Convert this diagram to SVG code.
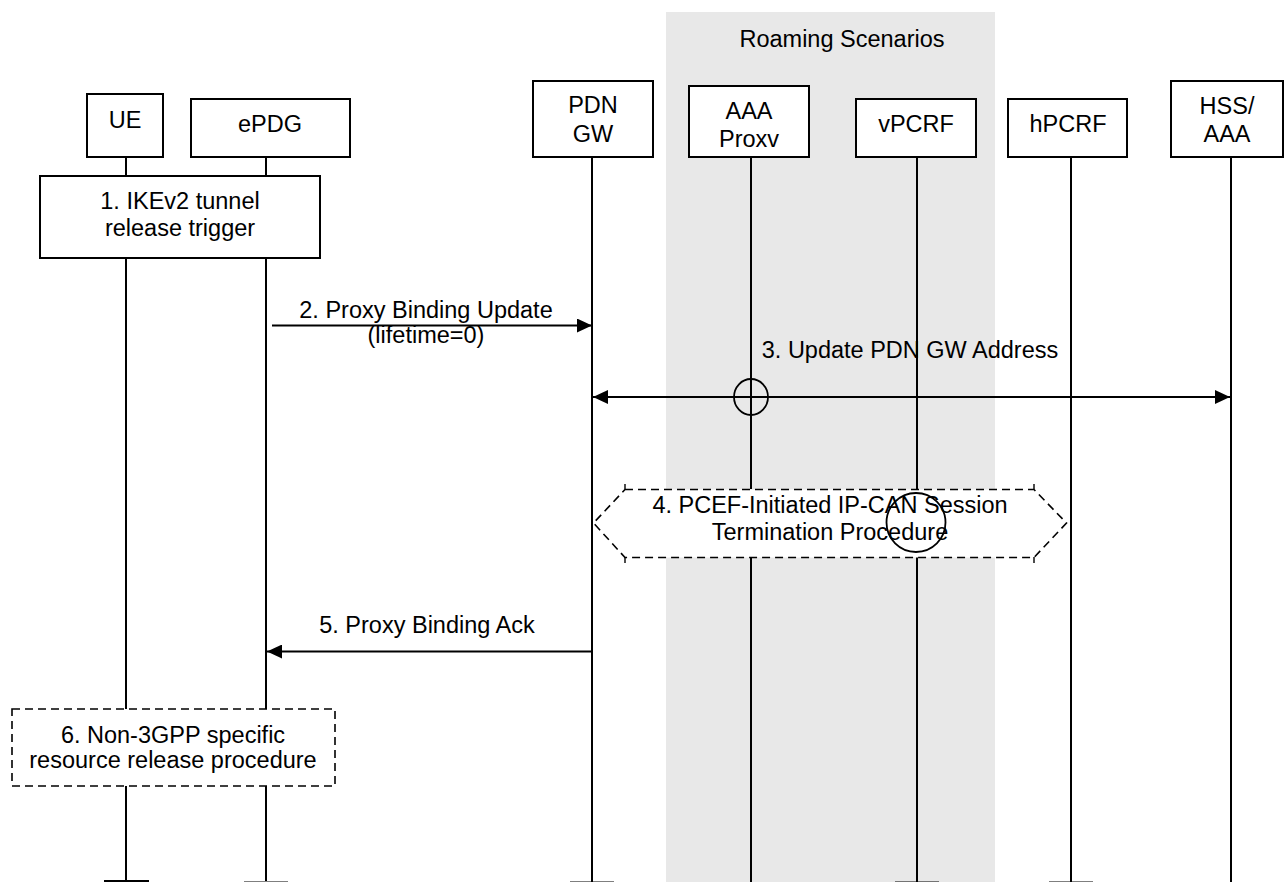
<svg xmlns="http://www.w3.org/2000/svg" width="1284" height="882" viewBox="0 0 1284 882">
<defs>
<style>
text{font-family:"Liberation Sans",Arial,sans-serif;font-size:23.5px;fill:#000;text-anchor:middle}
.box{fill:#fff;stroke:#000;stroke-width:2}
.dbox{fill:#fff;stroke:#000;stroke-width:1.6;stroke-dasharray:8 5}
.life{stroke:#000;stroke-width:2;fill:none}
.msg{stroke:#000;stroke-width:2.2;fill:none}
.ring{fill:none;stroke:#000;stroke-width:1.8}
</style>
<marker id="ah" viewBox="0 0 15 14" refX="15" refY="7" markerWidth="15" markerHeight="14" markerUnits="userSpaceOnUse" orient="auto-start-reverse">
<path d="M0,0 L15,7 L0,14 Z" fill="#000"/>
</marker>
</defs>
<rect width="1284" height="882" fill="#fff"/>
<rect id="roaming" x="666" y="12" width="329" height="870" fill="#e8e8e8"/>
<text x="842" y="47">Roaming Scenarios</text>

<g id="lifelines">
<path class="life" d="M126,157V176M126,258V709M126,786V881"/>
<path class="life" d="M266,157V176M266,258V709M266,786V881"/>
<path class="life" d="M592,157V882"/>
<path class="life" d="M751,157V489M751,557V882"/>
<path class="life" d="M917,157V489M917,557V882"/>
<path class="life" d="M1071,157V882"/>
<path class="life" d="M1231,157V882"/>
<line x1="104" y1="881" x2="149" y2="881" stroke="#000" stroke-width="2"/>
<g stroke="#000" stroke-width="2">
<line x1="244" y1="882.5" x2="288" y2="882.5"/>
<line x1="570" y1="882.5" x2="614" y2="882.5"/>
<line x1="895" y1="882.5" x2="939" y2="882.5"/>
<line x1="1049" y1="882.5" x2="1093" y2="882.5"/>
</g>
</g>

<g id="UE"><rect class="box" x="87" y="94" width="76" height="63"/><text x="125" y="128">UE</text></g>
<g id="ePDG"><rect class="box" x="191" y="99" width="159" height="58"/><text x="270" y="132">ePDG</text></g>
<g id="PDNGW"><rect class="box" x="533" y="81" width="120" height="76"/><text x="593" y="113">PDN</text><text x="593" y="142">GW</text></g>
<g id="AAAProxy"><rect class="box" x="689" y="86" width="120" height="71"/><text x="749" y="119">AAA</text><text x="749" y="147">Proxv</text></g>
<g id="vPCRF"><rect class="box" x="856" y="99" width="120" height="58"/><text x="916" y="132">vPCRF</text></g>
<g id="hPCRF"><rect class="box" x="1008" y="99" width="119" height="58"/><text x="1068" y="132">hPCRF</text></g>
<g id="HSSAAA"><rect class="box" x="1171" y="81" width="112" height="76"/><text x="1227" y="114">HSS/</text><text x="1227" y="142">AAA</text></g>

<g id="step1"><rect class="box" x="40" y="176" width="280" height="82"/><text x="180" y="209">1. IKEv2 tunnel</text><text x="180" y="236">release trigger</text></g>

<g id="connectors">
<line class="msg" x1="272" y1="325.5" x2="592" y2="325.5" marker-end="url(#ah)"/>
<text x="426" y="318">2. Proxy Binding Update</text>
<text x="426" y="343">(lifetime=0)</text>
<line class="msg" x1="593" y1="397" x2="1230" y2="397" marker-start="url(#ah)" marker-end="url(#ah)"/>
<text x="910" y="358">3. Update PDN GW Address</text>
<ellipse class="ring" cx="751" cy="397" rx="17" ry="18"/>
<line class="msg" x1="592" y1="651.5" x2="267" y2="651.5" marker-end="url(#ah)"/>
<text x="427" y="633">5. Proxy Binding Ack</text>
</g>

<g id="step4">
<path class="dbox" d="M625,489.5H1034L1066.5,523L1034,557.5H625L593.5,523Z"/>
<g stroke="#000" stroke-width="1.4"><line x1="625" y1="484" x2="625" y2="489"/><line x1="625" y1="557" x2="625" y2="563"/><line x1="1034" y1="484" x2="1034" y2="489"/><line x1="1034" y1="557" x2="1034" y2="563"/></g>
<text x="830" y="513">4. PCEF-Initiated IP-CAN Session</text>
<text x="830" y="540">Termination Procedure</text>
<circle class="ring" cx="916" cy="522.5" r="29.5"/>
</g>

<g id="step6"><rect class="dbox" x="12" y="709" width="323" height="77"/><text x="173" y="743">6. Non-3GPP specific</text><text x="173" y="768">resource release procedure</text></g>
</svg>
